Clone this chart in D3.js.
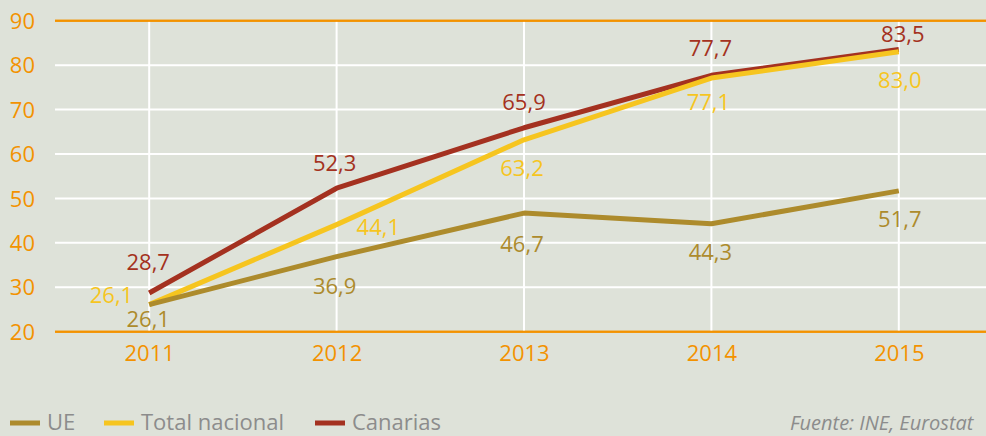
<!DOCTYPE html>
<html><head><meta charset="utf-8">
<script src="https://cdn.jsdelivr.net/npm/d3@7"></script>
<style>
html,body{margin:0;padding:0;background:#DEE2D9;overflow:hidden;}
svg{display:block;}
</style></head>
<body><svg id="c" width="986" height="436"></svg>
<script>
const years = ["2011","2012","2013","2014","2015"];
const yTicks = [20,30,40,50,60,70,80,90];
const seriesNames = ["UE","Total nacional","Canarias"];
const ueValues = [26.1,36.9,46.7,44.3,51.7];
const totalValues = [26.1,44.1,63.2,77.1,83.0];
const canariasValues = [28.7,52.3,65.9,77.7,83.5];
const sourceText = "Fuente: INE, Eurostat";

const W = 986, H = 436;
const svg = d3.select("#c");
const font = "'Open Sans', sans-serif";
const orange = "#F39200";
const colors = {"UE":"#AD8B2C","Total nacional":"#F6C51F","Canarias":"#A43120"};

svg.append("rect").attr("width",W).attr("height",H).attr("fill","#DEE2D9");

const x = d3.scalePoint().domain(years).range([55.5, 992.5]).padding(0.5);
const y = d3.scaleLinear().domain([20,90]).range([331.7, 20.7]);

// horizontal grid
svg.append("g").selectAll("line").data(yTicks).join("line")
  .attr("x1",55).attr("x2",W)
  .attr("y1",d=>y(d)).attr("y2",d=>y(d))
  .attr("stroke",d=>(d===20||d===90)?orange:"#FFFFFF")
  .attr("stroke-width",2);
// vertical grid
svg.append("g").selectAll("line").data(years).join("line")
  .attr("x1",d=>x(d)).attr("x2",d=>x(d))
  .attr("y1",y(90)+1).attr("y2",y(20)-1)
  .attr("stroke","#FFFFFF").attr("stroke-width",2);
// orange borders on top
svg.append("g").selectAll("line").data([20,90]).join("line")
  .attr("x1",55).attr("x2",W).attr("y1",d=>y(d)).attr("y2",d=>y(d))
  .attr("stroke",orange).attr("stroke-width",2);

// y axis labels
const yAxis = d3.axisLeft(y).tickValues(yTicks).tickSize(0).tickPadding(0).tickFormat(d3.format("d"));
const gy = svg.append("g").attr("transform","translate(35,0)").call(yAxis);
gy.select(".domain").remove();
gy.selectAll("text").attr("fill",orange).style("font-family",font).style("font-size","22px").attr("dy","0.35em");

// x axis labels
const xAxis = d3.axisBottom(x).tickSize(0).tickPadding(0);
const gx = svg.append("g").attr("transform","translate(0,343)").call(xAxis);
gx.select(".domain").remove();
gx.selectAll("text").attr("fill",orange).style("font-family",font).style("font-size","22px").attr("dy","0.8em");

const series = [
  {name:"Canarias", values:canariasValues},
  {name:"Total nacional", values:totalValues},
  {name:"UE", values:ueValues}
];
const line = d3.line().x((d,i)=>x(years[i])).y(d=>y(d));
svg.append("g").selectAll("path").data(series).join("path")
  .attr("d",s=>line(s.values))
  .attr("fill","none").attr("stroke",s=>colors[s.name])
  .attr("stroke-width",5).attr("stroke-linecap","butt").attr("stroke-linejoin","round");

// label placement (dx, dy, anchor) per series/point
const placement = {
  "Canarias":[[-1,-23,"middle"],[-2,-17,"middle"],[0,-18,"middle"],[-1,-19,"middle"],[4,-8,"middle"]],
  "Total nacional":[[-16,-2,"end"],[20,10,"start"],[-2,36,"middle"],[-3,32,"middle"],[1,36,"middle"]],
  "UE":[[-1,22,"middle"],[-2,37,"middle"],[-2,39,"middle"],[-1,36,"middle"],[1,36,"middle"]]
};
const fmt = v => d3.format(".1f")(v).replace(".",",");
series.forEach(s=>{
  svg.append("g").selectAll("text").data(s.values).join("text")
    .attr("x",(d,i)=>x(years[i])+placement[s.name][i][0])
    .attr("y",(d,i)=>y(d)+placement[s.name][i][1])
    .attr("text-anchor",(d,i)=>placement[s.name][i][2])
    .attr("fill",colors[s.name])
    .style("font-family",font).style("font-size","22px")
    .text(d=>fmt(d));
});

// legend
const legX = [10,104,315];
const leg = svg.append("g").selectAll("g").data(seriesNames).join("g")
  .attr("transform",(d,i)=>`translate(${legX[i]},423)`);
leg.append("line").attr("x1",0).attr("x2",30).attr("y1",0).attr("y2",0)
  .attr("stroke",d=>colors[d]).attr("stroke-width",5);
leg.append("text").attr("x",37).attr("y",7)
  .attr("fill","#8C8C8C").style("font-family",font).style("font-size","22px")
  .text(d=>d);

svg.append("text").attr("x",790).attr("y",430)
  .attr("fill","#8C8C8C").style("font-family",font).style("font-size","20px").style("font-style","italic")
  .text(sourceText);
</script></body></html>
